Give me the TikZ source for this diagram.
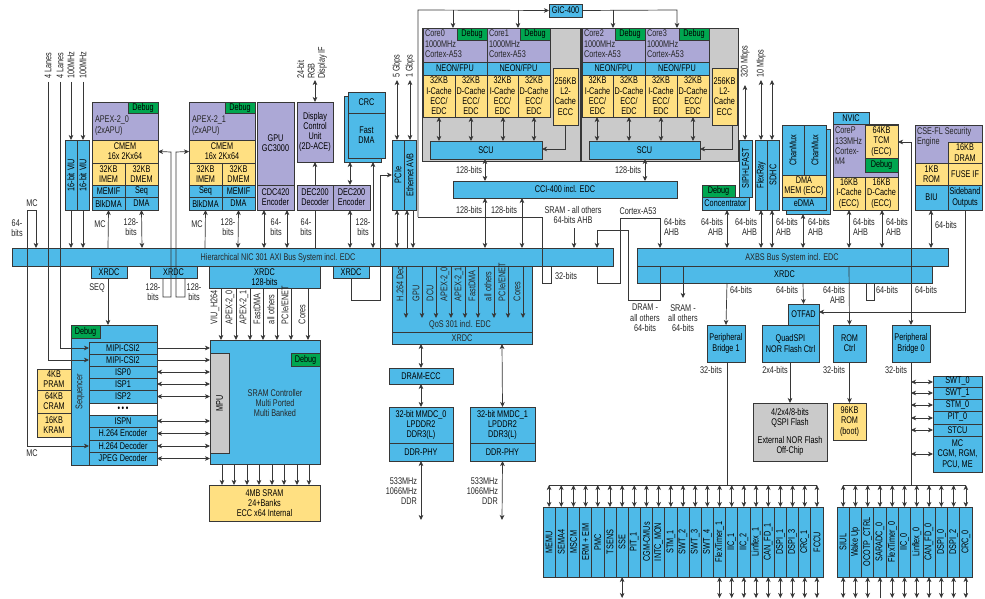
\documentclass[tikz,border=0pt]{standalone}
\usepackage{fontspec}
\setmainfont{Liberation Sans}[FakeStretch=0.75]
\usetikzlibrary{arrows.meta}
\definecolor{cb}{RGB}{78,186,232}
\definecolor{cp}{RGB}{172,168,214}
\definecolor{cy}{RGB}{255,224,130}
\definecolor{cg}{RGB}{0,166,80}
\definecolor{cgy}{RGB}{202,202,202}
\definecolor{lc}{RGB}{55,55,55}
\newcounter{lbc}
\newcommand\ft{\fontsize{9.7}{10.3}\selectfont}
\newcommand\bx[7][]{\node[bxs,#1,minimum width={(#5)-(#3)},minimum height={(#6)-(#4)}] (#2) at ({((#3)+(#5))/2},{((#4)+(#6))/2}) {#7};}
\newcommand\rbx[7][]{\node[bxs,#1,rotate=90,minimum width={(#6)-(#4)},minimum height={(#5)-(#3)}] (#2) at ({((#3)+(#5))/2},{((#4)+(#6))/2}) {#7};}
\newcommand\lb[3][]{\stepcounter{lbc}\node[lbls,#1] (lb\arabic{lbc}) at (#2) {#3};}
\begin{document}
\begin{tikzpicture}[x=1pt,y=-1pt,every node/.style={font=\ft},
 bxs/.style={draw=lc,line width=0.7pt,inner sep=0pt,outer sep=0pt,align=center,text=black},
 bl/.style={fill=cb}, pu/.style={fill=cp}, ye/.style={fill=cy}, gn/.style={fill=cg}, gy/.style={fill=cgy}, wh/.style={fill=white},
 lbls/.style={inner sep=0pt,outer sep=0pt,align=center,text=black!85},
 ra/.style={rotate=90,anchor=west},
 ln/.style={draw=lc,line width=0.7pt},
 ar/.style={ln,-{Stealth[length=5pt,width=4.6pt,inset=1.4pt]}},
 bi/.style={ln,{Stealth[length=5pt,width=4.6pt,inset=1.4pt]}-{Stealth[length=5pt,width=4.6pt,inset=1.4pt]}}]
\useasboundingbox[fill=white] (0,0) rectangle (985,599);

% ---------------- buses
\bx[bl]{hnic}{12}{248}{613}{266}{}
\lb{278,257.5}{Hierarchical NIC 301 AXI Bus System incl. EDC}
\bx[bl]{axbs}{637}{248}{948}{266}{}
\lb{792,257.5}{AXBS Bus System incl. EDC}
\bx[bl]{axx}{637}{266}{932}{283}{XRDC}

% ---------------- VIU
\rbx[bl]{viuA}{65}{140}{77}{210}{16-bit VIU}
\rbx[bl]{viuB}{77}{140}{89}{210}{16-bit VIU}
\lb[ra]{48,79}{4 Lanes}
\lb[ra]{60,79}{4 Lanes}
\lb[ra]{71,79}{100MHz}
\lb[ra]{83,79}{100MHz}

% ---------------- APEX-2_0
\bx[pu]{apex0}{92}{102}{158}{140}{}
\bx[gn]{dbgA}{128}{102}{158}{113}{Debug}
\lb[anchor=north west,align=left]{95,116}{APEX-2\_0\\(2xAPU)}
\bx[ye]{cmem0}{92}{140}{158}{163}{CMEM\\16x 2Kx64}
\bx[ye]{imem0}{92}{163}{125}{185}{32KB\\IMEM}
\bx[ye]{dmem0}{125}{163}{158}{185}{32KB\\DMEM}
\bx[bl]{memif0}{92}{185}{125}{197}{MEMIF}
\bx[bl]{seq0}{125}{185}{158}{197}{Seq}
\bx[bl]{blk0}{92}{197}{125}{210}{BlkDMA}
\bx[bl]{dma0}{125}{197}{158}{210}{DMA}
% ---------------- APEX-2_1
\bx[pu]{apex1}{189}{102}{255}{140}{}
\bx[gn]{dbgB}{225}{102}{255}{113}{Debug}
\lb[anchor=north west,align=left]{192,116}{APEX-2\_1\\(2xAPU)}
\bx[ye]{cmem1}{189}{140}{255}{163}{CMEM\\16x 2Kx64}
\bx[ye]{imem1}{189}{163}{222}{185}{32KB\\IMEM}
\bx[ye]{dmem1}{222}{163}{255}{185}{32KB\\DMEM}
\bx[bl]{seq1}{189}{185}{222}{197}{Seq}
\bx[bl]{memif1}{222}{185}{255}{197}{MEMIF}
\bx[bl]{blk1}{189}{197}{222}{210}{BlkDMA}
\bx[bl]{dma1}{222}{197}{255}{210}{DMA}

% ---------------- GPU / DCU / DEC200
\bx[pu]{gpu}{257}{102}{294}{185}{GPU\\GC3000}
\bx[pu]{cdc}{257}{185}{294}{210}{CDC420\\Encoder}
\bx[pu]{dcu}{297}{102}{333}{162}{Display\\Control\\Unit\\(2D-ACE)}
\bx[pu]{decd}{297}{185}{333}{210}{DEC200\\Decoder}
\bx[pu]{dece}{333}{185}{370}{210}{DEC200\\Encoder}
\lb[rotate=90,anchor=west,align=left]{312,79}{24-bit\\RGB\\Display IF}

% ---------------- Fast DMA
\bx[bl]{fdmab}{344}{96}{381}{162}{}
\bx[bl]{crc}{348}{92}{385}{113}{CRC}
\bx[bl]{fdma}{348}{113}{385}{158}{Fast\\DMA}

% ---------------- PCIe / Ethernet
\rbx[bl]{pcie}{392}{140}{404}{210}{PCIe}
\rbx[bl]{eth}{404}{140}{416}{210}{Ethernet AVB}
\lb[ra]{397,78}{5 Gbps}
\lb[ra]{410,78}{1 Gbps}

% ---------------- GIC and clusters
\bx[bl]{gic}{549}{4}{582}{17}{GIC-400}
\bx[gy]{clA}{422}{28}{580}{161}{}
\bx[gy]{clB}{581}{28}{738}{161}{}
\bx[pu]{core0}{423}{28}{487}{62}{}
\bx[pu]{core1}{487}{28}{550}{62}{}
\bx[pu]{core2}{582}{28}{645}{62}{}
\bx[pu]{core3}{645}{28}{709}{62}{}
\bx[gn]{dbg0}{457}{28}{487}{40}{Debug}
\bx[gn]{dbg1}{520}{28}{550}{40}{Debug}
\bx[gn]{dbg2}{615}{28}{645}{40}{Debug}
\bx[gn]{dbg3}{679}{28}{709}{40}{Debug}
\lb[anchor=north west,align=left]{425,30}{Core0\\1000MHz\\Cortex-A53}
\lb[anchor=north west,align=left]{489,30}{Core1\\1000MHz\\Cortex-A53}
\lb[anchor=north west,align=left]{584,30}{Core2\\1000MHz\\Cortex-A53}
\lb[anchor=north west,align=left]{647,30}{Core3\\1000MHz\\Cortex-A53}
\bx[bl]{neon0}{423}{62}{487}{75}{NEON/FPU}
\bx[bl]{neon1}{487}{62}{550}{75}{NEON/FPU}
\bx[bl]{neon2}{582}{62}{645}{75}{NEON/FPU}
\bx[bl]{neon3}{645}{62}{709}{75}{NEON/FPU}
\bx[ye]{c0i}{423}{75}{455}{117}{32KB\\I-Cache\\ECC/\\EDC}
\bx[ye]{c0d}{455}{75}{487}{117}{32KB\\D-Cache\\ECC/\\EDC}
\bx[ye]{c1i}{487}{75}{518}{117}{32KB\\I-Cache\\ECC/\\EDC}
\bx[ye]{c1d}{518}{75}{550}{117}{32KB\\D-Cache\\ECC/\\EDC}
\bx[ye]{c2i}{582}{75}{613}{117}{32KB\\I-Cache\\ECC/\\EDC}
\bx[ye]{c2d}{613}{75}{645}{117}{32KB\\D-Cache\\ECC/\\EDC}
\bx[ye]{c3i}{645}{75}{677}{117}{32KB\\I-Cache\\ECC/\\EDC}
\bx[ye]{c3d}{677}{75}{709}{117}{32KB\\D-Cache\\ECC/\\EDC}
\bx[ye]{l2a}{553}{68}{578}{125}{256KB\\L2-\\Cache\\ECC}
\bx[ye]{l2b}{712}{68}{737}{125}{256KB\\L2-\\Cache\\ECC}
\bx[bl]{scuA}{430}{141}{542}{159}{SCU}
\bx[bl]{scuB}{589}{141}{700}{159}{SCU}
\bx[bl]{cci}{453}{181}{677}{198}{CCI-400 incl. EDC}

% ---------------- right upper blocks
\bx[gn]{dbgc}{702}{185}{735}{197}{Debug}
\bx[bl]{conc}{702}{197}{749}{210}{Concentrator}
\rbx[bl]{sipi}{739}{140}{752}{197}{SIPI+LFAST}
\rbx[bl]{flex}{755}{140}{767}{210}{FlexRay}
\rbx[bl]{sdhc}{767}{140}{779}{210}{SDHC}
\lb[ra]{745,78}{320 Mbps}
\lb[ra]{761,78}{10 Mbps}
\bx[bl]{chb}{786}{129}{830}{214}{}
\rbx[bl]{chm1}{782}{125}{804}{175}{ChanMux}
\rbx[bl]{chm2}{804}{125}{826}{175}{ChanMux}
\bx[ye]{dmem}{782}{175}{826}{197}{DMA\\MEM (ECC)}
\bx[bl]{edma}{782}{197}{826}{210}{eDMA}
\bx[bl]{nvic}{833}{112}{869}{124}{NVIC}
\bx[pu]{corep}{833}{124}{898}{210}{}
\lb[anchor=north west,align=left]{835,127}{CoreP\\133MHz\\Cortex-\\M4}
\bx[ye]{tcm}{865}{125}{898}{158}{64KB\\TCM\\(ECC)}
\bx[gn]{dbgp}{865}{158}{898}{172}{Debug}
\bx[ye]{pic}{833}{177}{865}{210}{16KB\\I-Cache\\(ECC)}
\bx[ye]{pdc}{865}{177}{898}{210}{16KB\\D-Cache\\(ECC)}
\bx[pu]{cse}{915}{125}{982}{185}{}
\lb[anchor=north west,align=left]{917,127}{CSE-FL Security\\Engine}
\bx[ye]{cdram}{948}{142}{982}{163}{16KB\\DRAM}
\bx[ye]{crom}{915}{163}{948}{185}{1KB\\ROM}
\bx[ye]{fuse}{948}{163}{982}{185}{FUSE IF}
\bx[bl]{biu}{915}{185}{948}{210}{BIU}
\bx[bl]{side}{948}{185}{982}{210}{Sideband\\Outputs}

% ---------------- below AXBS
\bx[bl]{pb1}{707}{325}{745}{362}{Peripheral\\Bridge 1}
\bx[bl]{otfad}{788}{304}{819}{325}{OTFAD}
\bx[bl]{qspi}{762}{325}{819}{362}{QuadSPI\\NOR Flash Ctrl}
\bx[gy]{flash}{753}{403}{827}{461}{4/2x4/8-bits\\QSPI Flash\\[7pt]External NOR Flash\\Off-Chip}
\bx[bl]{romc}{833}{325}{866}{362}{ROM\\Ctrl}
\bx[ye]{rom}{833}{403}{866}{440}{96KB\\ROM\\(boot)}
\bx[bl]{pb0}{892}{325}{930}{362}{Peripheral\\Bridge 0}
\bx[bl]{swt0}{933}{376}{982}{387}{SWT\_0}
\bx[bl]{swt1}{933}{387}{982}{399}{SWT\_1}
\bx[bl]{stm0}{933}{399}{982}{411}{STM\_0}
\bx[bl]{pit0}{933}{411}{982}{424}{PIT\_0}
\bx[bl]{stcu}{933}{424}{982}{436}{STCU}
\bx[bl]{mc}{933}{436}{982}{472}{MC\\CGM, RGM,\\PCU, ME}

% ---------------- XRDCs under HNIC
\bx[bl]{x1}{91}{266}{127}{278}{XRDC}
\bx[bl]{x2}{150}{266}{197}{278}{XRDC}
\bx[bl]{x3}{209}{266}{320}{288}{XRDC\\128-bits}
\bx[bl]{x4}{333}{266}{369}{278}{XRDC}

% ---------------- Sequencer
\bx[ye]{pram}{37}{369}{71}{390}{4KB\\PRAM}
\bx[ye]{cram}{37}{390}{71}{413}{64KB\\CRAM}
\bx[ye]{kram}{37}{413}{71}{437}{16KB\\KRAM}
\bx[bl]{seqb}{71}{325}{157}{465}{}
\bx[gn]{dbgs}{71}{325}{100}{338}{Debug}
\lb[rotate=90]{80,392}{Sequencer}
\bx[bl]{mipiA}{89}{342}{157}{354}{MIPI-CSI2}
\bx[bl]{mipiB}{89}{354}{157}{366}{MIPI-CSI2}
\bx[bl]{isp0}{89}{366}{157}{378}{ISP0}
\bx[bl]{isp1}{89}{378}{157}{390}{ISP1}
\bx[bl]{isp2}{89}{390}{157}{403}{ISP2}
\bx[wh]{dots}{89}{403}{157}{415}{\textbullet\,\textbullet\,\textbullet}
\bx[bl]{ispn}{89}{415}{157}{427}{ISPN}
\bx[bl]{h264e}{89}{427}{157}{440}{H.264 Encoder}
\bx[bl]{h264d}{89}{440}{157}{452}{H.264 Decoder}
\bx[bl]{jpeg}{89}{452}{157}{465}{JPEG Decoder}

% ---------------- SRAM controller
\bx[bl]{sramc}{210}{340}{320}{464}{}
\rbx[gy]{mpu}{210}{353}{229}{453}{MPU}
\bx[gn]{dbgr}{291}{353}{320}{366}{Debug}
\lb{275,403}{SRAM Controller\\Multi Ported\\Multi Banked}
\bx[ye]{sram4}{209}{485}{320}{521}{4MB SRAM\\24+Banks\\ECC x64 Internal}
\foreach \t/\x in {VIU\_H264/215,APEX-2\_0/230,APEX-2\_1/244,FastDMA/257,all others/271,{PCIe/ENET}/285,Cores/302}{\lb[ra]{\x,324}{\t}}
\foreach \x in {221,236,250,263,277,291,308}{\draw[ar] (\x,288) -- (\x,340);}
\foreach \x in {222,234,247,259,272,284,297,309}{\draw[ar] (\x,464) -- (\x,485);}

% ---------------- QoS / DRAM
\bx[bl]{qos}{392}{266}{532}{344}{}
\draw[ln] (392,332) -- (532,332);
\lb{460,325}{QoS 301 incl. EDC}
\lb{462,338.5}{XRDC}
\foreach \t/\x in {H.264 Dec/400,GPU/416,DCU/430,APEX-2\_0/445,APEX-2\_1/459,FastDMA/472,all others/488,{PCIe/ENET}/502,Cores/517}{\lb[ra]{\x,301}{\t}}
\foreach \x in {406,422,436,451,465,478,494,508,523}{\draw[ar] (\x,266) -- (\x,318);}
\bx[bl]{dramecc}{389}{368}{453}{384}{DRAM-ECC}
\bx[bl]{mm0}{389}{407}{453}{443}{32-bit MMDC\_0\\LPDDR2\\DDR3(L)}
\bx[bl]{phy0}{389}{443}{453}{461}{DDR-PHY}
\bx[bl]{mm1}{470}{407}{535}{443}{32-bit MMDC\_1\\LPDDR2\\DDR3(L)}
\bx[bl]{phy1}{470}{443}{535}{461}{DDR-PHY}
\lb[anchor=east,align=right]{417,491}{533MHz\\1066MHz\\DDR}
\lb[anchor=east,align=right]{498,491}{533MHz\\1066MHz\\DDR}

% ---------------- peripheral groups
\foreach \t [count=\i from 0] in {MEMU,SEMA4,MSCM,ERM + EIM,PMC,TSENS,SSE,PIT\_1,CGM-CMUs,INTC\_MON,STM\_1,SWT\_2,SWT\_3,SWT\_4,FlexTimer\_1,IIC\_1,IIC\_2,Linflex\_1,CAN\_FD\_1,DSPI\_1,DSPI\_3,CRC\_1,FCCU}{
 \pgfmathsetmacro\xa{543+\i*280/23}
 \pgfmathsetmacro\xb{543+(\i+1)*280/23}
 \pgfmathsetmacro\xc{543+(\i+0.5)*280/23}
 \rbx[bl]{pl\i}{\xa}{507}{\xb}{577}{\t}
 \draw[bi] (\xc,485) -- (\xc,507);
}
\foreach \i in {6,14,15,16,17,18,19,20,21,22}{
 \pgfmathsetmacro\xc{543+(\i+0.5)*280/23}
 \draw[bi] (\xc,577) -- (\xc,598);
}
\draw[ln] (549.1,485) -- (816.9,485);
\foreach \t [count=\i from 0] in {SIUL,Wake Up,OCOTP\_CTRL,SARADC\_0,FlexTimer\_0,IIC\_0,Linflex\_0,CAN\_FD\_0,DSPI\_0,DSPI\_2,CRC\_0}{
 \pgfmathsetmacro\xa{837+\i*135/11}
 \pgfmathsetmacro\xb{837+(\i+1)*135/11}
 \pgfmathsetmacro\xc{837+(\i+0.5)*135/11}
 \rbx[bl]{pr\i}{\xa}{507}{\xb}{577}{\t}
 \draw[bi] (\xc,485) -- (\xc,507);
}
\foreach \i in {0,1,2,4,5,6,7,8,9,10}{
 \pgfmathsetmacro\xc{837+(\i+0.5)*135/11}
 \draw[bi] (\xc,577) -- (\xc,598);
}
\draw[ar] (880,598) -- (880,577);
\draw[ln] (843.1,485) -- (965.9,485);

% ================= connectors
% lanes and VIU
\draw[ar] (60,82) -- (60,348) -- (mipiA.west);
\draw[ar] (48,82) -- (48,360) -- (mipiB.west);
\draw[ar] (71,82) -- (71,140);
\draw[ar] (83,82) -- (83,140);
\draw[ar] (71,210) -- (71,248);
\draw[ar] (83,210) -- (83,248);
\draw[bi] (36,248) -- (36,210) -- (27,210) -- (27,446) -- (h264d.west);
\lb{32,203}{MC}
\lb{17,228}{64-\\bits}
\lb{32,453}{MC}
% APEX
\draw[ar] (108,248) -- (blk0.south);
\draw[bi] (dma0.south) -- (142,248);
\draw[ar] (205,248) -- (blk1.south);
\draw[bi] (dma1.south) -- (238,248);
\lb{100,224}{MC}
\lb{131,227}{128-\\bits}
\lb{197,224}{MC}
\lb{228,227}{128-\\bits}
\draw[ar] (163,278) -- (163,297) -- (171,297) -- (171,152) -- (cmem0.east);
\draw[ar] (185,278) -- (185,297) -- (176,297) -- (176,152) -- (cmem1.west);
\lb{153,292}{128-\\bits}
\lb{194,292}{128-\\bits}
\draw[ar] (108,278) -- (108,325);
\lb{97,288}{SEQ}
% GPU etc
\draw[bi] (264,210) -- (264,248);
\draw[bi] (287,210) -- (287,248);
\lb{276,227}{64-\\bits}
\draw[ln] (315,210) -- (315,248);
\lb{306,227}{64-\\bits}
\draw[bi] (350,210) -- (350,248);
\lb{363,227}{128-\\bits}
\draw[ar] (315,185) -- (315,162);
\draw[bi] (315,80) -- (dcu.north);
\draw[bi] (350,162) -- (350,185);
\draw[bi] (373,162) -- (373,248);
% PCIe
\draw[bi] (397,80) -- (397,140);
\draw[bi] (410,80) -- (410,140);
\draw[bi] (397,210) -- (397,248);
\draw[ar] (407,248) -- (407,210);
\draw[ar] (413,210) -- (413,248);
\draw[ar] (x4.south) -- (351,300) -- (380,300) -- (380,175) -- (392,175);
% GIC
\draw[ar] (418,217) -- (418,10) -- (gic.west);
\draw[ar] (453,10) -- (453,28);
\draw[ar] (518,10) -- (518,28);
\draw[ar] (gic.east) -- (677,10) -- (677,28);
\draw[ar] (613,10) -- (613,28);
\draw[ln] (418,217) -- (542,217) -- (542,283) -- (551,283) -- (551,266);
\lb{566,276}{32-bits}
% clusters
\foreach \x in {439,471,503,534,597,629,661,693}{\draw[bi] (\x,117) -- (\x,141);}
\draw[ar] (565,125) -- (565,149) -- (542,149);
\draw[ar] (732,125) -- (732,149) -- (700,149);
\draw[bi] (485,159) -- (485,181);
\draw[bi] (645,159) -- (645,181);
\lb[anchor=east]{482,170}{128-bits}
\lb[anchor=east]{641,170}{128-bits}
\draw[bi] (485,198) -- (485,248);
\draw[bi] (522,198) -- (522,248);
\lb[anchor=east]{482,210}{128-bits}
\lb{504,210}{128-bits}
% middle loops
\lb{573,215}{SRAM - all others\\64-bits AHB}
\draw[ar] (574,228) -- (574,248);
\lb{638,211}{Cortex-A53}
\draw[ar] (597,266) -- (597,283) -- (620,283) -- (620,218) -- (660,218) -- (660,248);
\draw[ar] (660,266) -- (660,300) -- (628,300) -- (628,230) -- (597,230) -- (597,248);
\lb[anchor=west,align=left]{664,227}{64-bits\\AHB}
\lb{645,318}{DRAM -\\all others\\64-bits}
\draw[ar] (683,266) -- (683,298);
\lb{683,318}{SRAM -\\all others\\64-bits}
% right upper
\draw[bi] (727,210) -- (727,248);
\lb[anchor=east,align=right]{723,227}{64-bits\\AHB}
\draw[bi] (745,85) -- (745,140);
\draw[bi] (761,80) -- (761,140);
\draw[bi] (772,80) -- (772,140);
\draw[bi] (761,210) -- (761,248);
\draw[bi] (772,210) -- (772,248);
\lb[anchor=east,align=right]{757,227}{64-bits\\AHB}
\lb[anchor=west,align=left]{776,227}{64-bits\\AHB}
\draw[bi] (803,214) -- (803,248);
\lb[anchor=west,align=left]{808,227}{64-bits\\AHB}
\draw[bi] (849,210) -- (849,248);
\lb[anchor=west,align=left]{853,227}{64-bits\\AHB}
\draw[bi] (882,210) -- (882,248);
\lb[anchor=west,align=left]{886,227}{64-bits\\AHB}
\draw[bi] (931,210) -- (931,248);
\lb[anchor=west]{935,225}{64-bits}
\draw[bi] (898,142) -- (911,142) -- (911,325);
\draw[ar] (965,210) -- (965,312) -- (819,312);
% below AXBS
\draw[ar] (727,283) -- (pb1.north);
\lb{741,290}{64-bits}
\draw[ar] (803,283) -- (otfad.north);
\lb{787,290}{64-bits}
\draw[ar] (849,266) -- (romc.north);
\lb[anchor=east,align=right]{845,295}{64-bits\\AHB}
\draw[ln] (866,283) -- (866,300) -- (874,300) -- (874,283);
\lb{887,290}{64-bits}
\lb{926,290}{64-bits}
\draw[ar] (790,362) -- (790,403);
\lb{775,370}{2x4-bits}
\draw[ar] (romc.south) -- (rom.north);
\lb{834,370}{32-bits}
\draw[ln] (727,362) -- (727,485);
\lb{711,370}{32-bits}
\draw[ln] (911,362) -- (911,485);
\lb{896,370}{32-bits}
\foreach \y in {382,393,405,418,430,454}{\draw[bi] (911,\y) -- (933,\y);}
% sequencer to SRAM
\draw[ar] (mipiA.east) -- (210,348);
\draw[ar] (mipiB.east) -- (210,360);
\foreach \y in {372,384,396.5,421,433.5,446,458.5}{\draw[bi] (157,\y) -- (210,\y);}
% DRAM
\draw[bi] (421,344) -- (dramecc.north);
\draw[bi] (dramecc.south) -- (mm0.north);
\draw[bi] (phy0.south) -- (421,520);
\draw[bi] (502,344) -- (mm1.north);
\draw[bi] (phy1.south) -- (502,520);
\end{tikzpicture}
\end{document}
